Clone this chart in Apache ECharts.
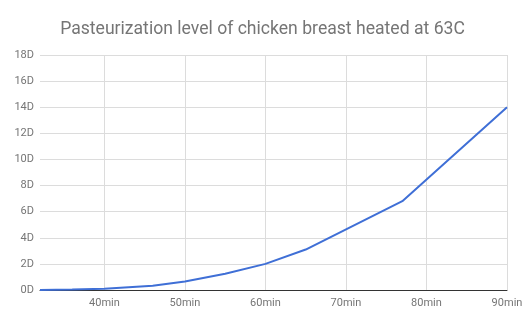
<!DOCTYPE html>
<html><head><meta charset="utf-8">
<script src="https://cdn.jsdelivr.net/npm/echarts@6/dist/echarts.min.js"></script>
<style>html,body{margin:0;padding:0;background:#fff}#c{width:525px;height:325px}</style>
</head><body><div id="c"></div>
<script>
const titleText = "Pasteurization level of chicken breast heated at 63C";
const minutes = [32, 36, 40, 46, 50, 55, 60, 65, 77, 90];
const dValues = [0, 0.03, 0.1, 0.33, 0.65, 1.25, 2.0, 3.1, 6.8, 14.0];
const xTicks = [40, 50, 60, 70, 80, 90];
const yTicks = [0, 2, 4, 6, 8, 10, 12, 14, 16, 18];

const chart = echarts.init(document.getElementById('c'), null, {renderer: 'canvas'});
chart.setOption({
  animation: false,
  title: {
    text: titleText, left: 'center', top: 16,
    textStyle: {fontFamily: 'Roboto', fontSize: 17.6, fontWeight: 'normal', color: '#757575'}
  },
  grid: {left: 40, right: 18, top: 55, bottom: 35},
  xAxis: {
    type: 'value', min: 32, max: 90,
    axisLine: {show: true, lineStyle: {color: '#333', width: 1}},
    axisTick: {show: false},
    splitLine: {show: false},
    axisLabel: {show: false}
  },
  yAxis: {
    type: 'value', min: 0, max: 18, interval: 2,
    axisLine: {show: false}, axisTick: {show: false},
    splitLine: {lineStyle: {color: '#dcdcdc', width: 1}},
    axisLabel: {formatter: v => v + 'D', fontFamily: 'Roboto', fontSize: 11, color: '#757575', margin: 6}
  },
  series: [
    {
      type: 'line', data: minutes.map((m, i) => [m, dValues[i]]),
      showSymbol: false, lineStyle: {color: '#3f6fd6', width: 2}, z: 5,
      markLine: {
        silent: true, symbol: 'none', animation: false,
        lineStyle: {color: '#dcdcdc', width: 1, type: 'solid'},
        label: {show: true, position: 'start', distance: 8, formatter: p => p.value + 'min',
          fontFamily: 'Roboto', fontSize: 11, color: '#757575'},
        data: xTicks.map(t => ({xAxis: t}))
      }
    }
  ]
});
</script></body></html>
